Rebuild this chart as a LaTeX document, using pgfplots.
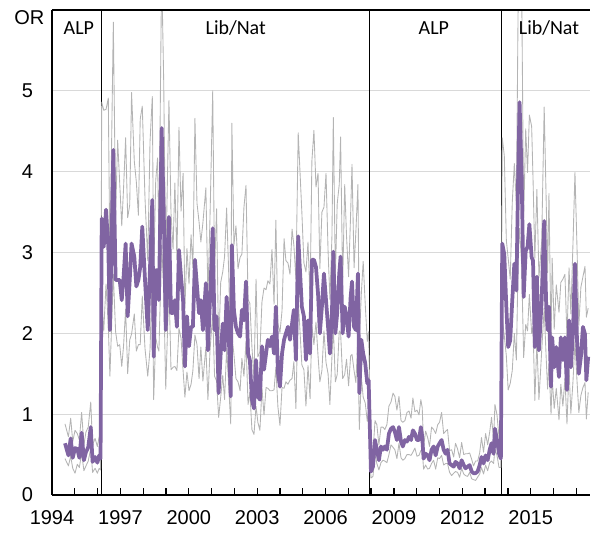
\documentclass[border=0pt]{standalone}
\usepackage{pgfplots}
\pgfplotsset{compat=1.18}
\usepackage{pgfplotstable}
\usepackage{fontspec}
\setmainfont{Liberation Sans}
\newfontfamily\calib{Carlito}
\definecolor{purp}{HTML}{8064A2}
\definecolor{ci}{HTML}{B4B4B4}
\definecolor{gridc}{HTML}{D9D9D9}

\pgfplotstableread{
x m lo hi
1994.57 0.64 0.45 0.88
1994.72 0.49 0.36 0.72
1994.82 0.70 0.48 0.95
1994.91 0.46 0.33 0.66
1995.01 0.58 0.27 0.80
1995.11 0.57 0.38 0.76
1995.20 0.46 0.34 0.68
1995.30 0.77 0.52 1.02
1995.40 0.43 0.30 0.62
1995.49 0.53 0.36 0.78
1995.59 0.59 0.42 0.84
1995.70 0.84 0.58 1.15
1995.78 0.41 0.28 0.62
1995.89 0.47 0.33 0.70
1995.99 0.40 0.27 0.60
1996.07 0.49 0.33 0.72
1996.13 0.45 0.31 0.66
1996.18 3.42 2.39 4.86
1996.27 3.07 2.03 4.76
1996.37 3.53 2.61 4.77
1996.47 3.07 2.09 4.91
1996.54 2.04 1.47 2.86
1996.69 4.27 2.73 5.85
1996.79 2.66 2.02 3.46
1996.88 2.66 1.84 4.39
1996.97 2.66 1.86 3.86
1997.06 2.41 1.59 3.33
1997.14 2.70 1.85 3.80
1997.23 3.11 2.30 4.42
1997.32 2.21 1.50 3.43
1997.41 2.66 1.92 3.59
1997.49 3.11 1.99 4.98
1997.61 2.95 2.24 4.13
1997.70 2.58 1.78 3.87
1997.79 2.66 1.86 3.46
1997.87 2.82 1.86 4.65
1997.96 3.32 2.46 4.81
1998.08 2.66 1.81 3.67
1998.20 2.04 1.47 2.90
1998.30 2.82 1.80 4.37
1998.40 3.65 2.77 4.93
1998.46 1.71 1.18 2.74
1998.55 2.78 1.95 3.89
1998.63 2.78 1.83 4.17
1998.69 2.41 1.78 3.13
1998.81 4.54 3.09 6.50
1998.90 3.53 2.54 5.12
1998.99 2.04 1.31 2.82
1999.13 3.44 2.61 4.88
1999.22 2.25 1.55 3.49
1999.31 2.25 1.58 3.04
1999.39 2.41 1.59 3.86
1999.48 2.08 1.54 2.91
1999.57 3.03 2.06 4.55
1999.66 2.70 1.94 3.51
1999.75 2.41 1.54 3.98
1999.83 1.59 1.21 2.31
1999.92 2.21 1.52 3.05
2000.01 1.84 1.29 2.61
2000.10 2.08 1.37 3.22
2000.18 2.08 1.54 2.81
2000.27 2.91 1.98 4.66
2000.36 2.58 1.86 3.61
2000.45 2.25 1.44 3.38
2000.53 2.41 1.83 3.13
2000.62 2.04 1.41 3.37
2000.75 2.62 1.83 3.80
2000.84 1.79 1.18 2.47
2000.93 2.41 1.78 3.42
2001.05 3.30 2.24 5.00
2001.13 2.04 1.47 2.75
2001.22 2.21 1.41 3.54
2001.31 1.26 0.96 1.76
2001.40 1.75 1.21 2.63
2001.49 2.12 1.48 2.76
2001.57 1.79 1.18 2.95
2001.66 2.45 1.81 3.55
2001.75 2.00 1.36 2.76
2001.84 1.22 0.88 1.73
2001.89 3.09 1.98 4.60
2001.98 2.29 1.74 3.09
2002.07 2.08 1.44 3.33
2002.16 2.00 1.40 2.80
2002.25 1.96 1.29 2.94
2002.33 2.29 1.69 2.98
2002.42 2.16 1.47 3.56
2002.51 2.64 1.90 3.83
2002.60 1.75 1.12 2.42
2002.68 1.67 1.27 2.37
2002.77 1.18 0.81 1.83
2002.86 1.07 0.75 1.44
2002.95 1.67 1.10 2.67
2003.03 1.22 0.90 1.71
2003.12 1.18 0.80 1.77
2003.21 1.84 1.32 2.39
2003.30 1.55 0.99 2.56
2003.39 1.75 1.33 2.54
2003.47 1.92 1.32 2.65
2003.56 1.84 1.29 2.61
2003.65 1.96 1.29 3.04
2003.74 1.75 1.30 2.36
2003.82 2.33 1.58 3.40
2003.91 1.51 1.09 2.11
2004.00 1.34 0.86 2.01
2004.09 1.75 1.33 2.28
2004.18 1.92 1.32 3.17
2004.26 2.00 1.40 2.90
2004.35 2.08 1.37 2.87
2004.44 1.92 1.42 2.73
2004.53 2.12 1.44 3.29
2004.61 2.29 1.65 3.09
2004.70 1.67 1.07 2.67
2004.80 3.20 2.43 4.48
2004.96 2.33 1.61 3.50
2005.05 2.21 1.55 2.87
2005.14 1.67 1.10 2.76
2005.23 2.16 1.60 3.13
2005.32 1.75 1.19 2.42
2005.40 2.91 2.10 4.13
2005.49 2.91 1.86 4.51
2005.58 2.82 2.14 3.81
2005.67 2.49 1.72 3.98
2005.75 2.00 1.40 2.80
2005.84 2.33 1.54 3.50
2005.93 2.74 2.03 3.56
2006.02 2.41 1.64 3.98
2006.11 2.08 1.50 3.02
2006.19 1.75 1.12 2.42
2006.28 2.25 1.71 3.20
2006.34 3.01 2.08 4.67
2006.43 2.00 1.40 2.70
2006.51 2.25 1.49 3.60
2006.60 2.74 2.03 3.84
2006.66 2.95 2.01 4.43
2006.75 2.00 1.44 2.60
2006.84 2.33 1.49 3.84
2006.92 2.21 1.68 3.20
2007.01 1.96 1.35 2.70
2007.10 2.45 1.72 3.48
2007.16 2.64 1.74 4.09
2007.25 2.08 1.54 2.81
2007.33 2.04 1.39 3.26
2007.42 2.74 1.97 3.84
2007.48 1.26 0.81 1.89
2007.57 1.92 1.46 2.50
2007.65 1.75 1.21 2.89
2007.74 1.63 1.14 2.36
2007.83 1.38 0.91 1.90
2007.89 1.42 1.05 2.02
2007.99 0.29 0.21 0.41
2008.08 0.35 0.23 0.53
2008.17 0.68 0.52 0.92
2008.25 0.56 0.39 0.87
2008.34 0.43 0.31 0.62
2008.43 0.60 0.40 0.84
2008.52 0.56 0.43 0.84
2008.60 0.60 0.42 0.81
2008.69 0.56 0.40 0.87
2008.78 0.76 0.50 1.10
2008.87 0.82 0.62 1.15
2008.96 0.84 0.59 1.26
2009.04 0.78 0.56 1.22
2009.13 0.68 0.45 1.05
2009.22 0.84 0.64 1.22
2009.31 0.66 0.46 0.92
2009.39 0.60 0.43 0.90
2009.48 0.68 0.45 0.92
2009.57 0.66 0.50 1.02
2009.66 0.72 0.50 1.04
2009.75 0.68 0.49 0.95
2009.83 0.80 0.53 1.20
2009.92 0.76 0.58 1.03
2010.01 0.68 0.48 1.05
2010.10 0.68 0.49 0.99
2010.18 0.84 0.55 1.18
2010.24 0.72 0.55 1.08
2010.30 0.45 0.32 0.61
2010.39 0.51 0.37 0.79
2010.48 0.49 0.32 0.71
2010.56 0.43 0.33 0.60
2010.65 0.56 0.39 0.84
2010.74 0.60 0.43 0.81
2010.83 0.49 0.32 0.76
2010.92 0.60 0.46 0.87
2011.00 0.64 0.45 0.90
2011.09 0.68 0.49 1.02
2011.18 0.56 0.37 0.76
2011.27 0.51 0.39 0.79
2011.35 0.56 0.39 0.81
2011.44 0.39 0.28 0.55
2011.53 0.37 0.24 0.56
2011.62 0.35 0.27 0.47
2011.70 0.41 0.29 0.64
2011.79 0.39 0.28 0.57
2011.88 0.33 0.22 0.46
2011.97 0.43 0.33 0.65
2012.06 0.37 0.26 0.50
2012.14 0.33 0.24 0.51
2012.23 0.35 0.23 0.51
2012.32 0.37 0.28 0.52
2012.41 0.29 0.20 0.44
2012.49 0.27 0.19 0.36
2012.58 0.27 0.18 0.42
2012.67 0.29 0.22 0.42
2012.76 0.37 0.26 0.52
2012.84 0.47 0.34 0.71
2012.93 0.39 0.26 0.53
2013.02 0.49 0.37 0.76
2013.11 0.43 0.30 0.62
2013.20 0.56 0.40 0.78
2013.28 0.64 0.42 0.96
2013.37 0.51 0.39 0.69
2013.43 0.82 0.57 1.12
2013.52 0.68 0.49 0.99
2013.61 0.51 0.34 0.71
2013.69 0.45 0.34 0.68
2013.75 3.11 2.18 4.42
2013.84 2.98 1.97 4.20
2013.93 2.33 1.72 3.15
2014.01 1.83 1.30 2.93
2014.10 1.91 1.38 2.67
2014.19 2.41 1.54 3.62
2014.28 2.86 2.00 4.10
2014.37 2.53 1.67 3.59
2014.45 3.97 2.94 6.15
2014.51 4.86 3.30 6.56
2014.60 3.97 2.86 6.35
2014.69 2.45 1.70 3.43
2014.78 3.02 2.11 4.53
2014.86 3.07 2.03 3.99
2014.94 3.35 2.48 4.70
2015.04 2.94 2.00 4.56
2015.10 2.90 2.09 3.92
2015.18 1.83 1.17 2.93
2015.27 2.70 1.89 3.78
2015.36 1.79 1.18 2.69
2015.48 2.41 1.78 3.13
2015.59 3.39 2.31 4.80
2015.68 2.33 1.68 3.61
2015.74 2.04 1.31 2.75
2015.80 2.33 1.63 3.73
2015.89 1.34 1.00 1.88
2015.94 1.95 1.44 2.93
2016.03 1.58 1.07 2.05
2016.12 1.83 1.32 2.60
2016.24 1.46 0.93 2.26
2016.32 1.95 1.37 2.63
2016.41 1.67 1.10 2.67
2016.50 1.95 1.44 2.73
2016.59 1.30 0.88 1.95
2016.68 2.16 1.56 2.81
2016.76 1.58 1.01 2.24
2016.85 1.99 1.39 3.08
2016.94 2.86 1.89 3.99
2017.03 1.91 1.41 3.06
2017.11 1.50 1.02 2.10
2017.20 1.71 1.23 2.57
2017.29 2.08 1.33 2.70
2017.38 1.99 1.39 2.83
2017.44 1.42 0.94 2.20
2017.52 1.71 1.27 2.31
}\data

\begin{document}
\fontsize{15}{18}\selectfont
\begin{tikzpicture}
\begin{axis}[
  scale only axis, width=403.5pt, height=363.75pt,
  xmin=1994, xmax=2017.6, ymin=0, ymax=6,
  axis lines*=left,
  x axis line style={line width=2pt},
  y axis line style={line width=1.5pt},
  xtick={1994,1997,...,2015},
  minor xtick={1994,1995,...,2017},
  ytick={0,1,...,5},
  /pgf/number format/1000 sep={},
  /pgf/number format/assume math mode=true,
  tick align=inside,
  major tick length=5pt, minor tick length=5pt,
  x tick style={black, line width=1pt},
  y tick style={draw=none},
  ymajorgrids,
  grid style={gridc, line width=0.9pt},
  xticklabel style={yshift=-6.5pt},
  yticklabel style={xshift=-9pt},
  tick label style={font=\fontsize{15}{18}\selectfont},
]
\addplot[black, line width=1.3pt] coordinates {(1996.17,0) (1996.17,6)};
\addplot[black, line width=1.3pt] coordinates {(2007.93,0) (2007.93,6)};
\addplot[black, line width=1.3pt] coordinates {(2013.72,0) (2013.72,6)};
\addplot[ci, line width=0.65pt, line join=round] table[x=x, y=hi] {\data};
\addplot[ci, line width=0.65pt, line join=round] table[x=x, y=lo] {\data};
\addplot[purp, line width=2.8pt, line join=round] table[x=x, y=m] {\data};
\node at (axis cs:1995.18,5.78) {\calib ALP};
\node at (axis cs:2002.06,5.78) {\calib Lib/Nat};
\node at (axis cs:2010.75,5.78) {\calib ALP};
\node at (axis cs:2015.8,5.78) {\calib Lib/Nat};
\coordinate (ll) at (rel axis cs:0,0);
\coordinate (ul) at (rel axis cs:0,1);
\coordinate (ur) at (rel axis cs:1,1);
\end{axis}
\draw[black, line width=1.1pt] (ul) -- (ur);
\node at ([xshift=-17pt, yshift=-6pt]ul) {OR};
\path ([shift={(-39pt,-28.5pt)}]ll) rectangle ([shift={(1.5pt,7.5pt)}]ur);
\end{tikzpicture}
\end{document}
